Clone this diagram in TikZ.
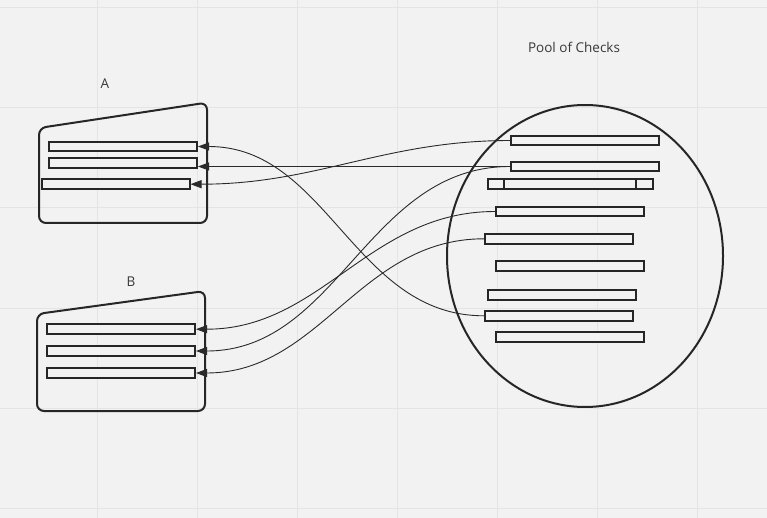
\documentclass[tikz,border=0pt]{standalone}
\usepackage{fontspec}
\setmainfont{Open Sans}
\usetikzlibrary{arrows.meta, shapes.geometric}
\definecolor{boardbg}{HTML}{F2F2F2}
\definecolor{gridln}{HTML}{E4E4E4}
\definecolor{ink}{HTML}{262626}
\definecolor{wirecol}{HTML}{2A2A2A}

\begin{document}
\begin{tikzpicture}[
  x=1pt, y=-1pt, >={Triangle[length=11pt,width=8pt]},
  font=\fontsize{13.5}{16}\selectfont,
  check/.style={rectangle, draw=ink, line width=2pt, fill=boardbg, minimum width=148pt, minimum height=9.6pt, inner sep=0pt},
  holder/.style={draw=ink, line width=2pt, rounded corners=7pt},
  wire/.style={->, draw=wirecol, line width=0.9pt},
  lbl/.style={text=black!78}
]
  \useasboundingbox[fill=boardbg] (0,0) rectangle (767,518);
  \foreach \gx in {97,197,...,697} \draw[gridln, line width=1pt] (\gx,0) -- (\gx,518);
  \foreach \gy in {8,108,...,508} \draw[gridln, line width=1pt] (0,\gy) -- (767,\gy);

  \node[lbl] (labA) at (105,84) {A};
  \node[lbl] (labB) at (131,282) {B};
  \node[lbl] (labPool) at (574,47) {Pool of Checks};

  \draw[holder] (120,223) -- (39,223) -- (39,128) -- (207,102.6) -- (207,223) -- cycle;
  \draw[holder] (120,411) -- (37,411) -- (37,314) -- (205,291) -- (205,411) -- cycle;
  \node[ellipse, draw=ink, line width=2pt, minimum width=276pt, minimum height=302pt, inner sep=0pt] (pool) at (585,256) {};

  \node[check] (a1) at (123,146.5) {};
  \node[check] (a2) at (123,163.3) {};
  \node[check] (a3) at (115.5,184.2) {};
  \node[check] (b1) at (121,329.2) {};
  \node[check] (b2) at (121,351) {};
  \node[check] (b3) at (121,373) {};

  \node[check] (p1) at (585,140.5) {};
  \node[check] (p2) at (585,166.5) {};
  \node[check, minimum width=165.6pt] (p3) at (570.5,183.8) {};
  \node[check, minimum width=132pt] (p3b) at (570.3,183.8) {};
  \node[check] (p4) at (569.8,211.5) {};
  \node[check] (p5) at (558.8,238.8) {};
  \node[check] (p6) at (569.8,266.2) {};
  \node[check] (p7) at (562,294.8) {};
  \node[check] (p8) at (558.8,315.8) {};
  \node[check] (p9) at (569.8,336.8) {};

  \draw[wire] (p1.west) to[out=180, in=0] (a3.east);
  \draw[wire] (p2.west) -- (a2.east |- p2.west);
  \draw[wire] (p8.west) to[out=180, in=0] (a1.east);
  \draw[wire] (p4.west) to[out=180, in=0] (b1.east);
  \draw[wire] (p2.west) to[out=180, in=0] (b2.east);
  \draw[wire] (p5.west) to[out=180, in=0] (b3.east);
\end{tikzpicture}
\end{document}
